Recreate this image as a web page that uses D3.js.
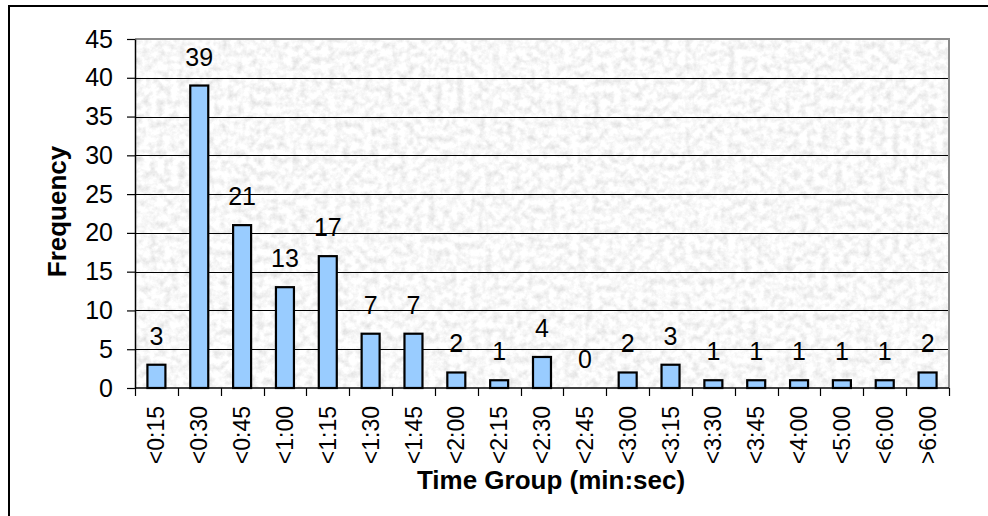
<!DOCTYPE html>
<html>
<head>
<meta charset="utf-8">
<script src="https://cdn.jsdelivr.net/npm/d3@7"></script>
<style>
  html, body { margin: 0; padding: 0; background: #fff; }
  svg { display: block; font-family: "Liberation Sans", Arial, sans-serif; }
</style>
</head>
<body>
<svg id="chart" width="988" height="516"></svg>
<script>
// Histogram of response times, grouped in 15-second bins
const categories = ["<0:15", "<0:30", "<0:45", "<1:00", "<1:15", "<1:30", "<1:45", "<2:00",
                    "<2:15", "<2:30", "<2:45", "<3:00", "<3:15", "<3:30", "<3:45", "<4:00",
                    "<5:00", "<6:00", ">6:00"];
const frequencies = [3, 39, 21, 13, 17, 7, 7, 2, 1, 4, 0, 2, 3, 1, 1, 1, 1, 1, 2];
const yTicks = [0, 5, 10, 15, 20, 25, 30, 35, 40, 45];
const xTitle = "Time Group (min:sec)";
const yTitle = "Frequency";

const svg = d3.select("#chart");
const plot = { left: 135, right: 949, top: 39, bottom: 388 };

// Speckled grey fill for the plot area
const defs = svg.append("defs");
const filt = defs.append("filter").attr("id", "speckle")
  .attr("x", 0).attr("y", 0).attr("width", 1).attr("height", 1);
filt.append("feTurbulence").attr("type", "fractalNoise")
  .attr("baseFrequency", 0.14).attr("numOctaves", 4).attr("seed", 11);
filt.append("feColorMatrix").attr("type", "matrix")
  .attr("values", "0.48 0 0 0 0.70  0.48 0 0 0 0.70  0.48 0 0 0 0.70  0 0 0 0 1");

// Outer chart frame
svg.append("rect").attr("x", 9).attr("y", 6).attr("width", 990).attr("height", 520)
  .attr("fill", "none").attr("stroke", "#000").attr("stroke-width", 2);

const y = d3.scaleLinear().domain([0, 45]).range([plot.bottom, plot.top]);
const x = d3.scaleBand().domain(categories).range([plot.left, plot.right])
  .paddingInner(0.58).paddingOuter(0.29);
const xCell = d3.scaleBand().domain(categories).range([plot.left, plot.right]).padding(0);

// Plot background
svg.append("rect")
  .attr("x", plot.left).attr("y", plot.top)
  .attr("width", plot.right - plot.left).attr("height", plot.bottom - plot.top)
  .attr("fill", "#ececec").attr("filter", "url(#speckle)");

// Horizontal gridlines
svg.append("g").selectAll("line").data(yTicks.filter(d => d > 0 && d < 45)).join("line")
  .attr("x1", plot.left).attr("x2", plot.right)
  .attr("y1", d => Math.round(y(d)) + 0.5).attr("y2", d => Math.round(y(d)) + 0.5)
  .attr("stroke", "#000").attr("stroke-width", 1);

// Plot area border (top and right)
svg.append("path")
  .attr("d", `M${plot.left},${plot.top} H${plot.right} V${plot.bottom}`)
  .attr("fill", "none").attr("stroke", "#8c8c8c").attr("stroke-width", 2);

// Bars
svg.append("g").selectAll("rect").data(categories).join("rect")
  .attr("x", (d) => x(d))
  .attr("y", (d, i) => y(frequencies[i]))
  .attr("width", x.bandwidth())
  .attr("height", (d, i) => y(0) - y(frequencies[i]))
  .attr("fill", "#99ccff").attr("stroke", "#000").attr("stroke-width", 2.2);

// Value labels
svg.append("g").selectAll("text").data(categories).join("text")
  .attr("x", d => x(d) + x.bandwidth() / 2)
  .attr("y", (d, i) => y(frequencies[i]) - 20)
  .attr("text-anchor", "middle")
  .attr("font-size", 25).attr("fill", "#000")
  .text((d, i) => frequencies[i]);

// Y axis
const yAxis = svg.append("g").attr("transform", `translate(${plot.left},0)`)
  .call(d3.axisLeft(y).tickValues(yTicks).tickSize(8).tickPadding(14).tickSizeOuter(0));
yAxis.select(".domain").attr("stroke", "#000").attr("stroke-width", 1.5);
yAxis.selectAll(".tick line").attr("stroke", "#000").attr("stroke-width", 1.2);
yAxis.selectAll(".tick text").attr("font-size", 25).attr("font-family", "Liberation Sans, Arial, sans-serif")
  .attr("fill", "#000");

// X axis: boundary ticks between groups
const xAxis = svg.append("g");
xAxis.append("line")
  .attr("x1", plot.left).attr("x2", plot.right)
  .attr("y1", plot.bottom).attr("y2", plot.bottom)
  .attr("stroke", "#000").attr("stroke-width", 1.5);
const bounds = categories.map(c => xCell(c)).concat([plot.right]);
xAxis.selectAll("line.tick").data(bounds).join("line").attr("class", "tick")
  .attr("x1", d => Math.round(d) + 0.5).attr("x2", d => Math.round(d) + 0.5)
  .attr("y1", plot.bottom).attr("y2", plot.bottom + 8)
  .attr("stroke", "#000").attr("stroke-width", 1.2);

// X tick labels, rotated
xAxis.selectAll("text").data(categories).join("text")
  .attr("transform", d => `translate(${x(d) + x.bandwidth() / 2},${plot.bottom + 18}) rotate(-90)`)
  .attr("text-anchor", "end").attr("dy", "0.35em")
  .attr("font-size", 23).attr("fill", "#000")
  .text(d => d);

// Axis titles
svg.append("text")
  .attr("x", 551).attr("y", 489)
  .attr("text-anchor", "middle").attr("font-size", 26).attr("font-weight", "bold")
  .text(xTitle);
svg.append("text")
  .attr("transform", `translate(66,${(plot.top + plot.bottom) / 2 - 2}) rotate(-90)`)
  .attr("text-anchor", "middle").attr("font-size", 26).attr("font-weight", "bold")
  .text(yTitle);
</script>
</body>
</html>
